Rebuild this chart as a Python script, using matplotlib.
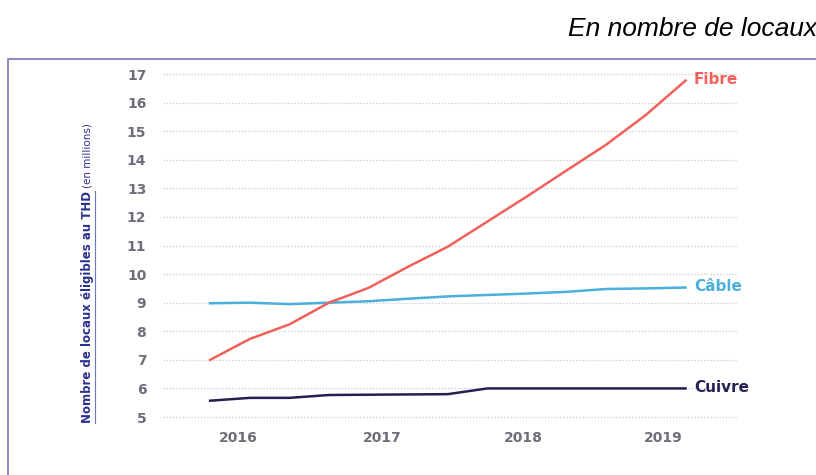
import matplotlib
matplotlib.use('Agg')
import matplotlib.pyplot as plt
from matplotlib.patches import Rectangle
from matplotlib.lines import Line2D

# quarterly points, end 2015 -> end 2018
quarters = list(range(13))
fibre = [7.0, 7.73, 8.24, 9.0, 9.52, 10.26, 10.96, 11.84, 12.72, 13.63, 14.53, 15.57, 16.77]
cable = [8.98, 9.0, 8.95, 9.0, 9.05, 9.14, 9.22, 9.27, 9.32, 9.38, 9.48, 9.5, 9.53]
cuivre = [5.57, 5.67, 5.67, 5.77, 5.78, 5.79, 5.8, 6.0, 6.0, 6.0, 6.0, 6.0, 6.0]
year_pos = [0.7, 4.35, 7.9, 11.45]
year_labels = ['2016', '2017', '2018', '2019']
y_ticks = list(range(5, 18))

c_fibre = '#f2605c'
c_cable = '#4aafdb'
c_cuivre = '#232052'
c_tick = '#6e6e7a'

fig = plt.figure(figsize=(8.16, 4.75), dpi=100)
W, H = 816, 475
# axes: x data -1.19..13.3 spans px 163..737, y 4.5..17.5 spans px 431..60
ax = fig.add_axes([163 / W, (H - 431.3) / H, (737 - 163) / W, 13 * 28.58 / H])
ax.set_xlim(-1.19, 13.3)
ax.set_ylim(4.5, 17.5)

for v in y_ticks:
    ax.axhline(v, color='#c9c9cf', lw=0.9, ls=(0, (1, 1.5)), zorder=1)

ax.plot(quarters, cuivre, color=c_cuivre, lw=1.8, zorder=3)
ax.plot(quarters, cable, color=c_cable, lw=1.8, zorder=3)
ax.plot(quarters, fibre, color=c_fibre, lw=1.8, zorder=4)

for vals, name, col in [(fibre, 'Fibre', c_fibre), (cable, 'Câble', c_cable), (cuivre, 'Cuivre', c_cuivre)]:
    ax.annotate(name, (quarters[-1], vals[-1]), xytext=(6, 1), textcoords='offset points',
                ha='left', va='center', color=col, fontsize=11, fontweight='bold',
                family='DejaVu Sans', annotation_clip=False)

ax.set_yticks(y_ticks)
ax.set_yticklabels([str(v) for v in y_ticks], family='DejaVu Sans', fontweight='bold',
                   fontsize=10, color=c_tick)
ax.set_xticks(year_pos)
ax.set_xticklabels(year_labels, family='DejaVu Sans', fontweight='bold', fontsize=10, color=c_tick)
ax.tick_params(axis='both', length=0)
ax.tick_params(axis='y', pad=12)
ax.tick_params(axis='x', pad=0)
for s in ax.spines.values():
    s.set_visible(False)

# y label: bold part + normal part
t1 = fig.text(87 / W, (H - 423) / H, 'Nombre de locaux éligibles au THD', rotation=90,
              ha='center', va='bottom', color='#2b2f8f', fontsize=8.5, fontweight='bold',
              family='Liberation Sans Narrow')
fig.canvas.draw()
r = fig.canvas.get_renderer()
bb = t1.get_window_extent(r)
t2 = fig.text(87 / W, (bb.y1 + 3) / H, '(en millions)', rotation=90,
              ha='center', va='bottom', color='#2b2f8f', fontsize=7.5,
              family='Liberation Sans Narrow')
fig.add_artist(Line2D([(bb.x1 + 1) / W, (bb.x1 + 1) / W], [bb.y0 / H, bb.y1 / H],
                      color='#6a78c8', lw=0.8))

# frame
fig.add_artist(Rectangle((8 / W, -0.05), 1.0, (H - 59) / H + 0.05, fill=False,
                         edgecolor='#7d78b8', lw=1.2, transform=fig.transFigure))

fig.text(568 / W, (H - 29) / H, 'En nombre de locaux', ha='left', va='center',
         fontsize=19, style='italic', family='Liberation Sans', color='black')

fig.savefig('out.png', dpi=100, facecolor='white')
